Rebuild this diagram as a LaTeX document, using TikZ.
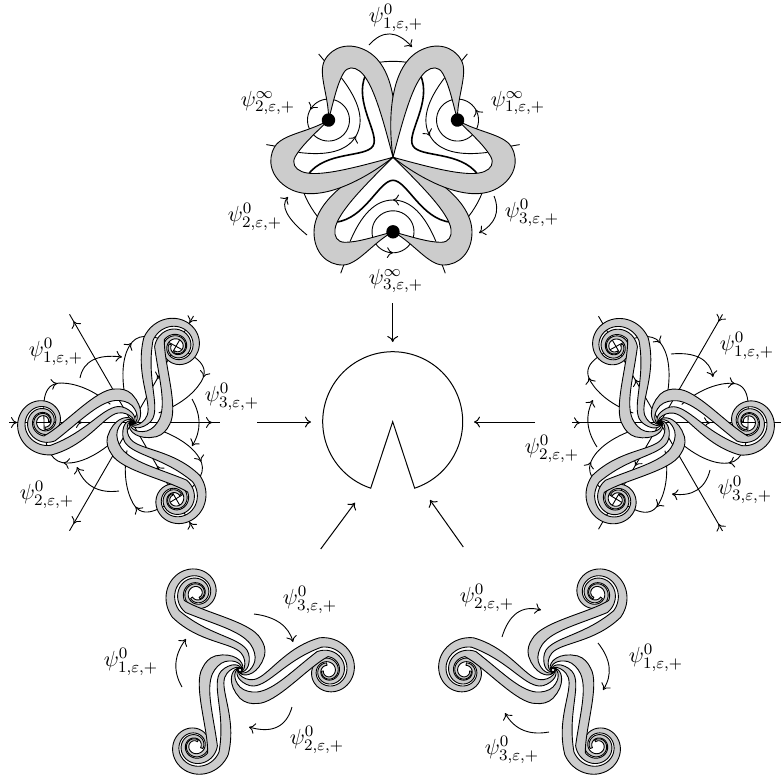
\documentclass[tikz,border=0pt,11pt]{standalone}
\usetikzlibrary{arrows.meta,calc,decorations.markings}
\definecolor{bandgray}{gray}{0.8}

\tikzset{
  declare function={
    ringr(\t)=33*exp(0.002618*(\t-90));
    hubr(\t)=exp(0.018675*(\t+90));
  },
  >={Computer Modern Rightarrow[length=3pt,width=5.4pt]},
  band/.style={draw=black, fill=bandgray, line width=0.45pt, line join=round},
  thinline/.style={line width=0.45pt},
  thickline/.style={line width=0.8pt},
  flowarc/.style={->, line width=0.45pt},
  mainarr/.style={->, line width=0.5pt},
  lab/.style={inner sep=0pt},
  marked/.style={postaction={decorate,decoration={markings,mark=at position #1 with {\flowtip}}}}
}

\newcommand{\swing}[3]{\draw[flowarc] (#1) .. controls ($1.3333*(#2)-0.3333*(#3)$) and ($1.3333*(#2)-0.3333*(#1)$) .. (#3);}

% one arm of a spiral figure, lying along +x
\newcommand{\spiralarm}{
  \draw[band] plot[domain=-154:-90,samples=12] ({5*hubr(\x)*cos(\x)},{5*hubr(\x)*sin(\x)})
    .. controls (3,-8) and (8,-10.5) .. (14,-9.5)
    .. controls (28,-7) and (44,22) .. (79.1,32.1)
    -- plot[domain=105:-540,samples=150] ({88+ringr(\x)*cos(\x)},{-1+ringr(\x)*sin(\x)})
    -- plot[domain=-540:105,samples=150] ({88+.72*ringr(\x)*cos(\x)},{-1+.72*ringr(\x)*sin(\x)})
    .. controls (46,10) and (30,-14.5) .. (14,-16)
    .. controls (9,-16.5) and (3,-13) .. (0,-9.8)
    -- plot[domain=-90:-188,samples=12] ({9.8*hubr(\x)*cos(\x)},{9.8*hubr(\x)*sin(\x)})
    -- cycle;
  \draw[band] plot[domain=-217:-90,samples=14] ({17*hubr(\x)*cos(\x)},{17*hubr(\x)*sin(\x)})
    .. controls (4,-21) and (11,-22.5) .. (17,-22)
    .. controls (34,-20) and (52,-1) .. (76.9,18.3)
    -- plot[domain=120:-260,samples=90] ({88+ringr(\x-180)*cos(\x)},{-1+ringr(\x-180)*sin(\x)})
    -- plot[domain=-260:90,samples=90] ({88+.7*ringr(\x-180)*cos(\x)},{-1+.7*ringr(\x-180)*sin(\x)})
    .. controls (68,3) and (36,-34) .. (17,-33.5)
    .. controls (11,-34) and (5,-33) .. (0,-28.3)
    -- plot[domain=-90:-247,samples=16] ({28.3*hubr(\x)*cos(\x)},{28.3*hubr(\x)*sin(\x)})
    -- cycle;
}
\newcommand{\spiralset}{
  \foreach \a in {0,120,240} {
    \begin{scope}[rotate=\a]
      \spiralarm
    \end{scope}
  }
}
% rays and loops under a spiral figure
\newcommand{\flowset}{
  \foreach \a/\l in {0/88,120/125,240/125} {
    \begin{scope}[rotate=\a, thinline]
      \draw[marked=4pt, marked=36.5pt] (123,0) -- (0,0);
      \draw[marked=-4pt] (0,0) -- (-\l,0);
      \draw[marked=0.27, marked=0.72] (18.3,18.3) .. controls (35,33) and (55,43) .. (70,40)
        .. controls (82,37.6) and (88,22) .. (88,0)
        .. controls (88,-15) and (92,-40) .. (70,-39.5)
        .. controls (55,-39) and (38,-32) .. (21.7,-18.3);
    \end{scope}
  }
}

\begin{document}
\begin{tikzpicture}[x=0.5pt, y=-0.5pt]
  \useasboundingbox (0,0) rectangle (781,778);
  \def\flowtip{\arrow{>}}

  % top figure
  \begin{scope}[shift={(393,157.3)}, yscale=-1]
    \foreach \a in {0,120,240} {
      \begin{scope}[rotate=\a]
        \draw[thinline] plot[domain=-48:-12,samples=12] ({96*cos(\x)},{96*sin(\x)});
        \draw[thickline] (-58,-65) .. controls (-28,-62) and (-14,-23) .. (0,-23) .. controls (14,-23) and (28,-62) .. (58,-65);
        \draw[thinline, marked=0.5] (43,-84.3) .. controls (32,-58) and (18,-42.7) .. (0,-42.7) .. controls (-18,-42.7) and (-32,-58) .. (-43,-84.3);
        \draw[thinline, marked=0.75] plot[domain=0:360,samples=50] ({21*cos(\x)},{-74.5+21*sin(\x)});
        \draw[thinline] (49,-107) -- (52.3,-116);
        \draw[thinline] (-49,-107) -- (-52.3,-116);
      \end{scope}
    }
    \foreach \a in {0,120,240} {
      \begin{scope}[rotate=\a]
        \foreach \s in {1,-1} {
          \begin{scope}[xscale=\s]
            \draw[band] (0,0) .. controls (30,-12) and (79,-40) .. (79,-75)
              .. controls (79,-95) and (66,-108) .. (50,-107.7)
              .. controls (35,-107.5) and (20,-85) .. (0,-74.5)
              .. controls (17,-79) and (35,-85) .. (48,-85)
              .. controls (56,-85) and (59,-79) .. (58,-72)
              .. controls (56,-55) and (25,-25) .. (0,0) -- cycle;
          \end{scope}
        }
        \fill (0,-74.5) circle[radius=3.35pt];
      \end{scope}
    }
  \end{scope}
  \node[lab] (topone)   at (396,18)  {$\psi^{0}_{1,\varepsilon,+}$};
  \node[lab] (toptwoi)  at (268,103) {$\psi^{\infty}_{2,\varepsilon,+}$};
  \node[lab] (toponei)  at (518,103) {$\psi^{\infty}_{1,\varepsilon,+}$};
  \node[lab] (toptwo)   at (255,217) {$\psi^{0}_{2,\varepsilon,+}$};
  \node[lab] (topthree) at (532,213) {$\psi^{0}_{3,\varepsilon,+}$};
  \node[lab] (topthreei) at (396,281) {$\psi^{\infty}_{3,\varepsilon,+}$};
  \swing{369,45}{390,34}{412,47}
  \swing{307,235}{287,213}{288,197}
  \swing{494,196}{495,217}{479,233}

  % left figure
  \begin{scope}[shift={(132,422.5)}, yscale=-1, rotate=180]
    \flowset
    \spiralset
  \end{scope}
  \node[lab] (leftone)   at (56,352)  {$\psi^{0}_{1,\varepsilon,+}$};
  \node[lab] (leftthree) at (232,397) {$\psi^{0}_{3,\varepsilon,+}$};
  \node[lab] (lefttwo)   at (47,495)  {$\psi^{0}_{2,\varepsilon,+}$};
  \swing{80,378}{93,360}{122,357}
  \swing{192,399}{199,423}{192,446}
  \swing{119,491}{93,487}{77,467}

  % right figure
  \def\flowtip{\arrowreversed{>}}
  \begin{scope}[shift={(660,422.7)}, xscale=-1, yscale=-1, rotate=180]
    \flowset
    \spiralset
  \end{scope}
  \node[lab] (rightone)   at (747,346) {$\psi^{0}_{1,\varepsilon,+}$};
  \node[lab] (righttwo)   at (552,449) {$\psi^{0}_{2,\varepsilon,+}$};
  \node[lab] (rightthree) at (745,490) {$\psi^{0}_{3,\varepsilon,+}$};
  \swing{671,354}{700,358}{713,377}
  \swing{710,470}{697,490}{672,494}
  \swing{597,447}{588,423}{593,400}

  % bottom figures
  \begin{scope}[shift={(240,670)}, yscale=-1]
    \spiralset
  \end{scope}
  \node[lab] (lowthree) at (310,600) {$\psi^{0}_{3,\varepsilon,+}$};
  \node[lab] (lowone)   at (131,662) {$\psi^{0}_{1,\varepsilon,+}$};
  \node[lab] (lowtwo)   at (317,740) {$\psi^{0}_{2,\varepsilon,+}$};
  \swing{254,614}{280,623}{293,642}
  \swing{182,687}{176,663}{186,639}
  \swing{292,707}{277,727}{249,727}

  \begin{scope}[shift={(553,670)}, xscale=-1, yscale=-1]
    \spiralset
  \end{scope}
  \node[lab] (resttwo)   at (487,598) {$\psi^{0}_{2,\varepsilon,+}$};
  \node[lab] (restone)   at (656,658) {$\psi^{0}_{1,\varepsilon,+}$};
  \node[lab] (restthree) at (512,750) {$\psi^{0}_{3,\varepsilon,+}$};
  \swing{502,637}{517,613}{541,610}
  \swing{598,643}{609,667}{603,690}
  \swing{549,732}{523,730}{505,713}

  % middle disk and arrows to it
  \draw[line width=0.5pt, line join=miter] (392.7,421.7) -- plot[domain=71.7:-251.7,samples=120] ({392.7+70*cos(\x)},{421.7+70*sin(\x)}) -- cycle;
  \coordinate (fromtop) at (392.7,303);
  \coordinate (totop) at (392.7,342);
  \coordinate (fromleft) at (257,422);
  \coordinate (toleft) at (311,422);
  \coordinate (fromright) at (535,422);
  \coordinate (toright) at (474,422);
  \coordinate (fromlow) at (320.7,549);
  \coordinate (tolow) at (355,502.7);
  \coordinate (fromrest) at (463.3,547);
  \coordinate (torest) at (430,500);
  \draw[mainarr] (fromtop) -- (totop);
  \draw[mainarr] (fromleft) -- (toleft);
  \draw[mainarr] (fromright) -- (toright);
  \draw[mainarr] (fromlow) -- (tolow);
  \draw[mainarr] (fromrest) -- (torest);
\end{tikzpicture}
\end{document}
